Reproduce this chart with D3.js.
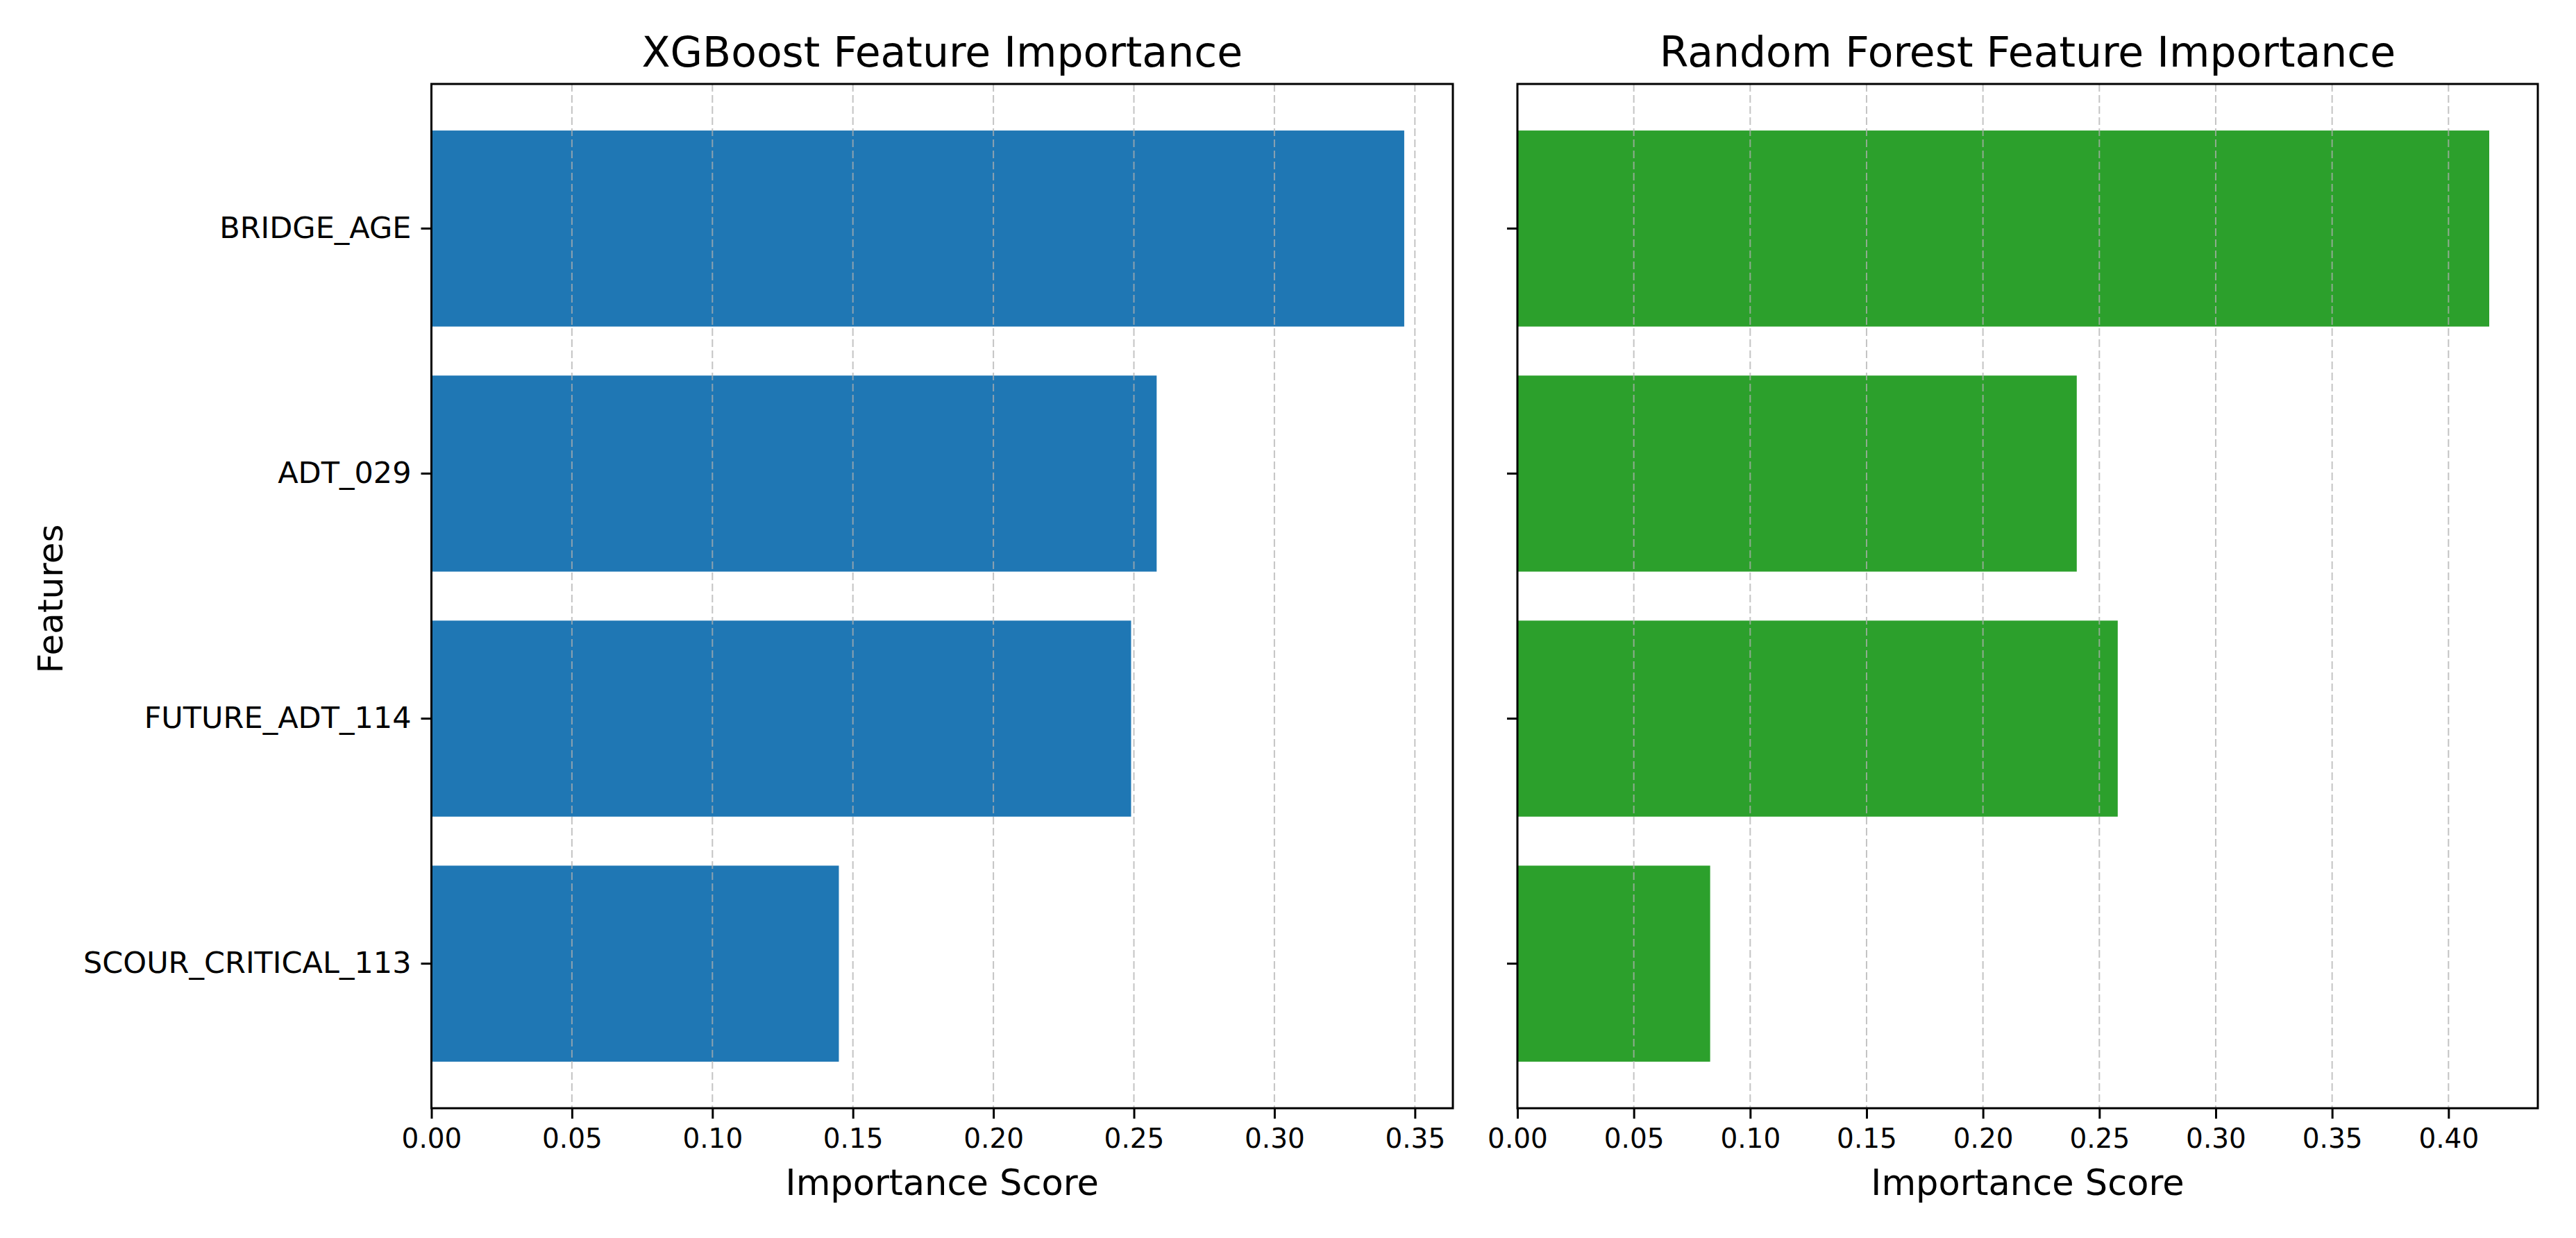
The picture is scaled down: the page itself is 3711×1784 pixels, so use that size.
<!DOCTYPE html>
<html><head><meta charset="utf-8">
<script src="https://cdn.jsdelivr.net/npm/d3@7"></script>
<style>
body{margin:0;background:#fff}
svg{display:block;background:#fff}
text{font-family:"DejaVu Sans",Verdana,sans-serif;fill:#000}
</style>
</head><body>
<svg id="chart" width="3711" height="1784"></svg>
<script>
// ---- data ----
const features = ["BRIDGE_AGE", "ADT_029", "FUTURE_ADT_114", "SCOUR_CRITICAL_113"];
const xgbValues = [0.3462, 0.2581, 0.2490, 0.1450];
const rfValues  = [0.4175, 0.2403, 0.2579, 0.0828];
const xgbTicks = [0.00, 0.05, 0.10, 0.15, 0.20, 0.25, 0.30, 0.35];
const rfTicks  = [0.00, 0.05, 0.10, 0.15, 0.20, 0.25, 0.30, 0.35, 0.40];
const panelTitles = ["XGBoost Feature Importance", "Random Forest Feature Importance"];
const xLabel = "Importance Score";
const yLabel = "Features";
const barColors = ["#1f77b4", "#2ca02c"];

(function () {
  // ---- layout ----
  const svg = d3.select("#chart");
  const plotTop = 121, plotBottom = 1597;
  const panels = [
    {x0: 621.5, x1: 2093, values: xgbValues, ticks: xgbTicks, title: panelTitles[0], color: barColors[0], labels: true},
    {x0: 2186,  x1: 3656, values: rfValues,  ticks: rfTicks,  title: panelTitles[1], color: barColors[1], labels: false}
  ];

  const y = d3.scaleBand().domain(features).range([plotTop, plotBottom])
    .paddingInner(0.2).paddingOuter(0.19);

  panels.forEach(p => {
    const data = features.map((f, i) => ({f, v: p.values[i]}));
    const x = d3.scaleLinear().domain([0, d3.max(p.values) * 1.05]).range([p.x0, p.x1]);
    const g = svg.append("g");

    // bars
    g.selectAll("rect.bar").data(data).join("rect")
      .attr("class", "bar")
      .attr("x", x(0))
      .attr("y", d => y(d.f))
      .attr("width", d => x(d.v) - x(0))
      .attr("height", y.bandwidth())
      .attr("fill", p.color);

    // grid lines (over bars)
    g.selectAll("line.grid").data(p.ticks).join("line")
      .attr("class", "grid")
      .attr("x1", d => x(d)).attr("x2", d => x(d))
      .attr("y1", plotTop).attr("y2", plotBottom)
      .attr("stroke", "#b0b0b0")
      .attr("stroke-opacity", 0.75)
      .attr("stroke-width", 2)
      .attr("stroke-dasharray", "11,5");

    // x axis
    const xa = g.append("g").attr("transform", `translate(0,${plotBottom})`)
      .call(d3.axisBottom(x).tickValues(p.ticks).tickFormat(d3.format(".2f"))
        .tickSize(15).tickPadding(14));
    xa.select(".domain").remove();
    xa.selectAll(".tick line").attr("stroke", "#000").attr("stroke-width", 3);
    xa.selectAll(".tick text").attr("font-size", 39)
      .attr("font-family", "'DejaVu Sans', sans-serif").attr("fill", "#000");

    // y axis
    const ya = g.append("g").attr("transform", `translate(${p.x0},0)`)
      .call(d3.axisLeft(y).tickSize(15).tickPadding(14)
        .tickFormat(p.labels ? (d => d) : () => ""));
    ya.select(".domain").remove();
    ya.selectAll(".tick line").attr("stroke", "#000").attr("stroke-width", 3);
    ya.selectAll(".tick text").attr("font-size", 43)
      .attr("font-family", "'DejaVu Sans', sans-serif").attr("fill", "#000");

    // frame
    g.append("rect")
      .attr("x", p.x0).attr("y", plotTop)
      .attr("width", p.x1 - p.x0).attr("height", plotBottom - plotTop)
      .attr("fill", "none").attr("stroke", "#000").attr("stroke-width", 3);

    // title
    g.append("text")
      .attr("x", (p.x0 + p.x1) / 2).attr("y", 96)
      .attr("text-anchor", "middle").attr("font-size", 60)
      .text(p.title);

    // x label
    g.append("text")
      .attr("x", (p.x0 + p.x1) / 2).attr("y", 1722)
      .attr("text-anchor", "middle").attr("font-size", 51)
      .text(xLabel);
  });

  // y label
  svg.append("text")
    .attr("transform", `translate(90,${(plotTop + plotBottom) / 2 + 4}) rotate(-90)`)
    .attr("text-anchor", "middle").attr("font-size", 50)
    .text(yLabel);
})();
</script>
</body></html>
